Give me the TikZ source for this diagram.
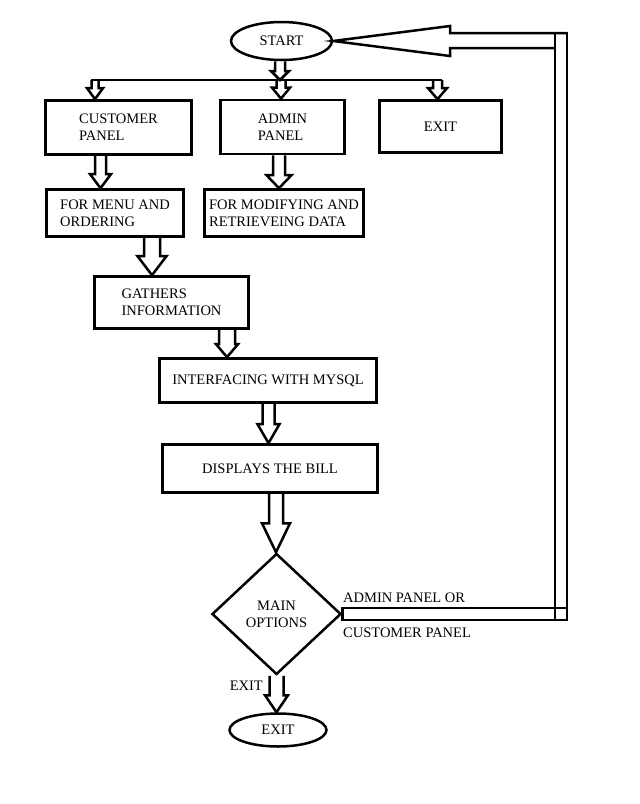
\documentclass[tikz,border=0pt]{standalone}
\usepackage{fontspec}
\setmainfont{Liberation Serif}
\usetikzlibrary{shapes.geometric,calc}

% hollow block arrow pointing down: top point, tip (y only), shaft half, head half, head length
\newcommand{\blkdown}[5]{%
  \draw[blk] let \p1=#1, \p2=#2 in
    (\x1-#3,\y1) -- (\x1-#3,\y2+#5) -- (\x1-#4,\y2+#5) -- (\x1,\y2)
    -- (\x1+#4,\y2+#5) -- (\x1+#3,\y2+#5) -- (\x1+#3,\y1);}

\begin{document}
\begin{tikzpicture}[x=1pt,y=-1pt,
  font=\fontsize{14.5}{17}\selectfont,
  box/.style={draw,line width=2.7pt,rectangle,align=left,inner sep=0pt},
  term/.style={draw,line width=2.5pt,ellipse,inner sep=0pt},
  dec/.style={draw,line width=2.5pt,diamond,align=center,inner sep=0pt},
  blk/.style={line width=2.5pt,line join=miter},
  lbl/.style={inner sep=0pt}]
\useasboundingbox (0,0) rectangle (640,804);
%\draw (0,0) rectangle (640,804);

\draw (281.5,41) node[term,minimum width=101pt,minimum height=38pt] (start) {START};

\draw (118.5,127.5) node[box,minimum width=146pt,minimum height=54pt] (cust) {CUSTOMER\\PANEL};
\draw (282.5,127) node[box,minimum width=124pt,minimum height=54pt] (admin) {ADMIN\\PANEL};
\draw (440.5,126.5) node[box,minimum width=122pt,minimum height=52pt] (quit) {EXIT};

\draw (115,213) node[box,minimum width=137pt,minimum height=47pt] (menu) {FOR MENU AND\\ORDERING};
\draw (284,213) node[box,minimum width=159pt,minimum height=47pt] (modify) {FOR MODIFYING AND\\RETRIEVEING DATA};

\draw (171.5,302.5) node[box,minimum width=154pt,minimum height=52pt] (gather) {GATHERS\\INFORMATION};
\draw (268,380.5) node[box,minimum width=217pt,minimum height=44pt] (mysql) {INTERFACING WITH MYSQL};
\draw (270,468.5) node[box,minimum width=215pt,minimum height=48pt] (bill) {DISPLAYS THE BILL};

\draw (276.5,614) node[dec,minimum width=129pt,minimum height=121pt] (opts) {MAIN\\OPTIONS};
\draw (278,730) node[term,minimum width=97pt,minimum height=33pt] (stop) {EXIT};

\draw (343,598) node[lbl,anchor=west] (orup) {ADMIN PANEL OR};
\draw (343,633) node[lbl,anchor=west] (ordn) {CUSTOMER PANEL};
\draw (263,686) node[lbl,anchor=east] (exitlbl) {EXIT};

% bus under start
\coordinate (busL) at (91,80);
\coordinate (busR) at (442,80);
\coordinate (b1) at (95,80);
\coordinate (b2) at (281,80);
\coordinate (b3) at (437.5,80);
\draw[blk] (busL) -- (busR);

\blkdown{([xshift=-1.5pt]start.south)}{(b2)}{5pt}{9pt}{9pt}
\blkdown{(b1)}{(cust.north)}{3.5pt}{8pt}{11pt}
\blkdown{(b2)}{(admin.north)}{4.5pt}{9pt}{11pt}
\blkdown{(b3)}{(quit.north)}{4.5pt}{9.5pt}{11pt}
\blkdown{([xshift=-18pt]cust.south)}{(menu.north)}{5.5pt}{10.5pt}{14pt}
\blkdown{([xshift=-3.5pt]admin.south)}{(modify.north)}{6pt}{12.5pt}{13pt}
\blkdown{([xshift=37pt]menu.south)}{(gather.north)}{8pt}{14.5pt}{19pt}
\blkdown{([xshift=55.5pt]gather.south)}{(mysql.north)}{8pt}{11pt}{13pt}
\blkdown{([xshift=0.5pt]mysql.south)}{(bill.north)}{6pt}{11pt}{19pt}
\blkdown{([xshift=6pt]bill.south)}{(opts.north)}{7pt}{14pt}{29pt}
\blkdown{(opts.south)}{(stop.north)}{7pt}{11.5pt}{17pt}

% loop back to start
\coordinate (loopT) at (555,33);
\coordinate (loopB) at (567,620);
\coordinate (hd) at (450,41);
\draw[blk] (loopT) rectangle (loopB);
\draw[blk] let \p1=(opts.east) in (\x1,\y1+6pt) rectangle (loopB);
\draw[blk] let \p1=(hd), \p2=(loopT) in (\x2+12pt,\y2) -- (\x1,\y2) -- (\x1,\y1+15pt)
  -- (start.east) -- (\x1,\y1-15pt) -- (\x1,\y1-7pt) -- (\x2,\y1-7pt);
\end{tikzpicture}
\end{document}
